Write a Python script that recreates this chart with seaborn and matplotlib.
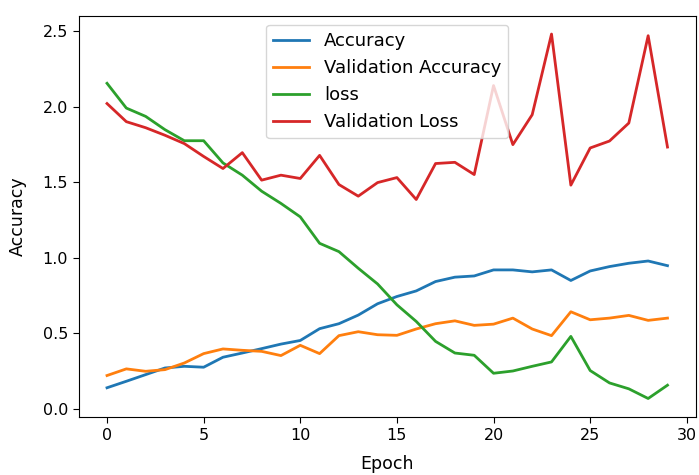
import numpy as np
import pandas as pd
import matplotlib
matplotlib.use("Agg")
import matplotlib.pyplot as plt
import seaborn as sns

epochs = list(range(30))
accuracy = [0.139, 0.182, 0.226, 0.270, 0.281, 0.275, 0.341, 0.369, 0.398, 0.428,
            0.452, 0.530, 0.563, 0.620, 0.695, 0.743, 0.780, 0.842, 0.871, 0.879,
            0.919, 0.919, 0.906, 0.919, 0.849, 0.912, 0.941, 0.963, 0.978, 0.947]
val_accuracy = [0.220, 0.264, 0.248, 0.259, 0.303, 0.365, 0.396, 0.387, 0.380, 0.352,
                0.420, 0.365, 0.484, 0.510, 0.490, 0.486, 0.528, 0.563, 0.582, 0.552,
                0.560, 0.600, 0.528, 0.484, 0.642, 0.589, 0.600, 0.618, 0.585, 0.600]
loss = [2.154, 1.990, 1.935, 1.847, 1.774, 1.774, 1.627, 1.546, 1.440, 1.359,
        1.270, 1.095, 1.040, 0.930, 0.826, 0.688, 0.578, 0.446, 0.369, 0.354,
        0.235, 0.250, 0.281, 0.310, 0.479, 0.253, 0.171, 0.132, 0.068, 0.156]
val_loss = [2.020, 1.900, 1.860, 1.810, 1.755, 1.670, 1.590, 1.695, 1.513, 1.546,
            1.524, 1.677, 1.484, 1.407, 1.497, 1.530, 1.385, 1.623, 1.631, 1.550,
            2.139, 1.748, 1.946, 2.480, 1.480, 1.726, 1.772, 1.891, 2.469, 1.732]

series = {
    "Accuracy": accuracy,
    "Validation Accuracy": val_accuracy,
    "loss": loss,
    "Validation Loss": val_loss,
}
colors = {
    "Accuracy": "#1f77b4",
    "Validation Accuracy": "#ff7f0e",
    "loss": "#2ca02c",
    "Validation Loss": "#d62728",
}

fig = plt.figure(figsize=(6.99, 4.75), dpi=100)
ax = fig.add_axes([0.113, 0.1227, 0.882, 0.844])

for name, vals in series.items():
    sns.lineplot(x=epochs, y=vals, ax=ax, color=colors[name], label=name, linewidth=2.0)

ax.set_xlabel("Epoch", fontsize=12.5, labelpad=9)
ax.set_ylabel("Accuracy", fontsize=12.5, labelpad=11)
ax.tick_params(labelsize=11.5, length=4.5)
ax.set_xticks([0, 5, 10, 15, 20, 25, 30])
ax.set_yticks([0.0, 0.5, 1.0, 1.5, 2.0, 2.5])
ax.legend(loc="upper center", fontsize=13)

fig.savefig("out.png", dpi=100)
